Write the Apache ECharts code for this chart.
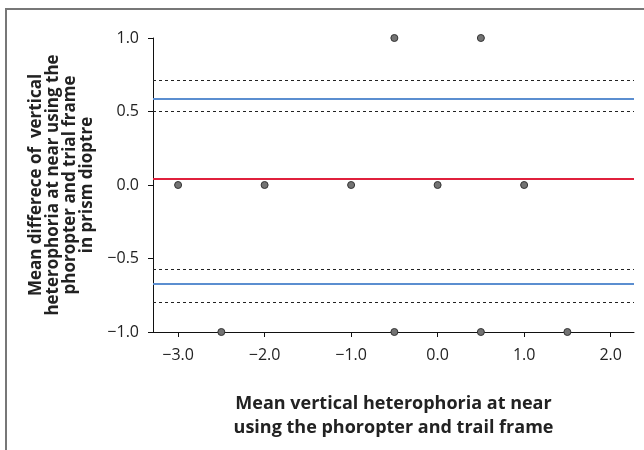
<!DOCTYPE html>
<html>
<head>
<meta charset="utf-8">
<script src="https://cdn.jsdelivr.net/npm/echarts@6/dist/echarts.min.js"></script>
<style>
  html, body { margin: 0; padding: 0; background: #fff; }
  #chart { width: 644px; height: 450px; }
</style>
</head>
<body>
<div id="chart"></div>
<script>
// 数据点 (平均值, 差值)
const pointsX = [-3, -2, -1, 0, 1, -0.5, 0.5, -2.5, -0.5, 0.5, 1.5]
const pointsY = [0, 0, 0, 0, 0, 1, 1, -1, -1, -1, -1]

// 参考线
const meanDiff = 0.04
const limitsOfAgreement = [0.59, -0.67]
const confidenceBounds = [0.71, 0.5, -0.57, -0.8]

// 刻度
const xTicks = [-3, -2, -1, 0, 1, 2]
const xRange = [-3.29, 2.27]
const yRange = [-1, 1]

const fmt = v => v.toFixed(1).replace('-', '\u2212')

const chart = echarts.init(document.getElementById('chart'))

const lineData = [
  { yAxis: meanDiff, lineStyle: { color: '#e0203c', width: 2, type: 'solid' } },
  ...limitsOfAgreement.map(v => ({ yAxis: v, lineStyle: { color: '#5b8ed0', width: 2, type: 'solid' } })),
  ...confidenceBounds.map(v => ({ yAxis: v, lineStyle: { color: '#222', width: 1, type: [3, 3] } }))
]

const option = {
  animation: false,
  textStyle: { fontFamily: 'Open Sans' },
  graphic: [
    {
      type: 'polyline',
      shape: { points: [[6, 460], [6, 9], [660, 9]] },
      style: { stroke: '#777', lineWidth: 2, fill: null }
    }
  ],
  grid: { left: 153, right: 10, top: 38, bottom: 118 },
  xAxis: {
    type: 'value',
    min: xRange[0],
    max: xRange[1],
    name: 'Mean vertical heterophoria at near\nusing the phoropter and trail frame',
    nameLocation: 'middle',
    nameGap: 60,
    nameTextStyle: { fontSize: 18, fontWeight: 'bold', color: '#222', lineHeight: 24, fontFamily: 'Open Sans' },
    axisLine: { onZero: false, lineStyle: { color: '#111', width: 1 } },
    axisTick: { show: true, length: 5, customValues: xTicks, lineStyle: { color: '#111' } },
    axisLabel: { customValues: xTicks, formatter: fmt, fontSize: 16, color: '#222', margin: 15 },
    splitLine: { show: false }
  },
  yAxis: {
    type: 'value',
    min: yRange[0],
    max: yRange[1],
    interval: 0.5,
    name: 'Mean differece of  vertical\nheterophoria at near using the\nphoropter and trial frame\nin prism dioptre',
    nameLocation: 'middle',
    nameRotate: 90,
    nameGap: 57,
    nameTextStyle: { fontSize: 17, fontWeight: 'bold', color: '#222', lineHeight: 17, fontFamily: 'Open Sans' },
    axisLine: { show: true, onZero: false, lineStyle: { color: '#111', width: 1 } },
    axisTick: { show: true, length: 5, lineStyle: { color: '#111' } },
    axisLabel: { formatter: fmt, fontSize: 16, color: '#222', margin: 14 },
    splitLine: { show: false }
  },
  series: [
    {
      type: 'scatter',
      data: [],
      z: 1,
      markLine: {
        silent: true,
        symbol: 'none',
        label: { show: false },
        data: lineData
      }
    },
    {
      type: 'scatter',
      z: 3,
      symbolSize: 7,
      itemStyle: { color: '#737373', borderColor: '#333', borderWidth: 1, opacity: 1 },
      data: pointsX.map((x, i) => [x, pointsY[i]])
    }
  ]
}

chart.setOption(option)
</script>
</body>
</html>
